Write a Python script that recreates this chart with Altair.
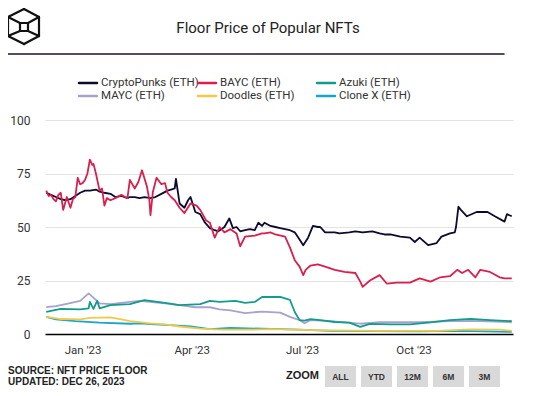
import altair as alt
import pandas as pd

names = ["CryptoPunks (ETH)", "BAYC (ETH)", "Azuki (ETH)", "MAYC (ETH)", "Doodles (ETH)", "Clone X (ETH)"]
colors = ["#0c0b2f", "#d7204d", "#139b8c", "#a7a2cf", "#f2c84b", "#17a6c9"]

punks_dates = ["2022-12-02", "2022-12-06", "2022-12-10", "2022-12-14", "2022-12-18", "2022-12-22", "2022-12-26",
               "2022-12-30", "2023-01-03", "2023-01-07", "2023-01-12", "2023-01-15", "2023-01-19", "2023-01-24",
               "2023-01-28", "2023-02-02", "2023-02-07", "2023-02-09", "2023-02-13", "2023-02-17", "2023-02-21",
               "2023-02-26", "2023-03-02", "2023-03-07", "2023-03-12", "2023-03-15", "2023-03-18", "2023-03-19",
               "2023-03-22", "2023-03-26", "2023-03-29", "2023-03-31", "2023-04-04", "2023-04-08", "2023-04-12",
               "2023-04-16", "2023-04-20", "2023-04-23", "2023-04-28", "2023-05-02", "2023-05-05", "2023-05-08",
               "2023-05-11", "2023-05-15", "2023-05-19", "2023-05-23", "2023-05-26", "2023-05-29", "2023-05-31",
               "2023-06-05", "2023-06-09", "2023-06-13", "2023-06-17", "2023-06-21", "2023-06-25", "2023-06-28",
               "2023-07-02", "2023-07-06", "2023-07-10", "2023-07-14", "2023-07-16", "2023-07-20", "2023-07-28",
               "2023-08-01", "2023-08-09", "2023-08-14", "2023-08-20", "2023-08-28", "2023-09-03", "2023-09-07",
               "2023-09-12", "2023-09-20", "2023-09-28", "2023-10-02", "2023-10-06", "2023-10-13", "2023-10-20",
               "2023-10-24", "2023-10-31", "2023-11-04", "2023-11-05", "2023-11-07", "2023-11-09", "2023-11-14",
               "2023-11-22", "2023-12-01", "2023-12-07", "2023-12-15", "2023-12-17", "2023-12-21"]
punks_values = [66, 65, 64, 63, 62.5, 63, 64.5,
                66, 67, 67, 67.5, 66.5, 66, 65.5,
                64, 64.5, 63.5, 64, 64, 63.5, 64,
                63.5, 64, 65.5, 67, 67.5, 68, 72.5,
                61, 59, 62.5, 64, 57, 56, 52,
                49.5, 48.5, 48, 50, 54, 49.5, 50,
                48, 48.5, 49, 48.5, 52, 50.5, 52,
                50.5, 50, 49.5, 49, 48.5, 47.5, 45,
                41.5, 45, 50.5, 50, 50, 47.5, 47.5,
                47, 47.5, 48, 47.5, 48, 47, 46.5,
                46.5, 45.5, 45, 43, 45, 41.5, 42.5,
                45.5, 47, 47.5, 50, 59.5, 58, 55,
                57, 57, 55, 52.5, 56, 55]

bayc_dates = ["2022-12-02", "2022-12-04", "2022-12-06", "2022-12-08", "2022-12-10", "2022-12-12", "2022-12-14",
              "2022-12-16", "2022-12-19", "2022-12-22", "2022-12-24", "2022-12-26", "2022-12-28", "2022-12-30",
              "2023-01-01", "2023-01-03", "2023-01-05", "2023-01-07", "2023-01-09", "2023-01-10", "2023-01-12",
              "2023-01-15", "2023-01-17", "2023-01-19", "2023-01-21", "2023-01-24", "2023-01-28", "2023-02-02",
              "2023-02-05", "2023-02-07", "2023-02-09", "2023-02-13", "2023-02-16", "2023-02-19", "2023-02-23",
              "2023-02-25", "2023-02-26", "2023-02-28", "2023-03-03", "2023-03-07", "2023-03-10", "2023-03-12",
              "2023-03-15", "2023-03-18", "2023-03-22", "2023-03-26", "2023-03-31", "2023-04-05", "2023-04-08",
              "2023-04-13", "2023-04-16", "2023-04-20", "2023-04-24", "2023-04-28", "2023-05-03", "2023-05-08",
              "2023-05-11", "2023-05-15", "2023-05-23", "2023-05-29", "2023-05-31", "2023-06-05", "2023-06-09",
              "2023-06-17", "2023-06-21", "2023-06-25", "2023-06-29", "2023-07-02", "2023-07-04", "2023-07-08",
              "2023-07-14", "2023-07-20", "2023-07-28", "2023-08-05", "2023-08-14", "2023-08-18", "2023-08-20",
              "2023-08-26", "2023-09-03", "2023-09-09", "2023-09-17", "2023-09-28", "2023-10-06", "2023-10-15",
              "2023-10-23", "2023-10-31", "2023-11-06", "2023-11-10", "2023-11-15", "2023-11-21", "2023-11-25",
              "2023-12-03", "2023-12-11", "2023-12-15", "2023-12-21"]
bayc_values = [67, 64.5, 65, 63, 62, 65, 66,
               58, 64, 59, 63, 64, 73, 70,
               70.5, 72, 75, 81.5, 79, 79.5, 75,
               67, 68, 60, 63.5, 62.5, 63.5, 65,
               64, 63.5, 72, 68, 71, 76.5, 69,
               63, 55.5, 66.5, 73, 70, 70.5, 66,
               64, 62.5, 59, 56.5, 61, 60, 58,
               53, 52, 45, 50, 47.5, 49, 47,
               41, 45.5, 46, 47, 47, 47.5, 46.5,
               45.5, 40.5, 34.5, 31.5, 27.5, 30, 32,
               32.5, 31.5, 30, 29, 28.5, 24.5, 22,
               25, 27.5, 23.5, 24, 24, 26, 24.5,
               26.5, 27, 30, 28.5, 30, 26.5, 30,
               29, 26.5, 26, 26]

azuki_dates = ["2022-12-02", "2022-12-14", "2022-12-30", "2023-01-06", "2023-01-07", "2023-01-10", "2023-01-13",
               "2023-01-15", "2023-01-24", "2023-02-09", "2023-02-21", "2023-03-10", "2023-03-22", "2023-04-08",
               "2023-04-16", "2023-04-24", "2023-05-07", "2023-05-15", "2023-05-23", "2023-05-29", "2023-06-05",
               "2023-06-13", "2023-06-21", "2023-06-25", "2023-06-29", "2023-07-03", "2023-07-08", "2023-07-16",
               "2023-07-28", "2023-08-09", "2023-08-18", "2023-08-26", "2023-09-12", "2023-09-28", "2023-10-15",
               "2023-10-31", "2023-11-17", "2023-12-03", "2023-12-21"]
azuki_values = [10.3, 11.7, 11.5, 12, 15, 11.7, 15.5,
                12, 13.5, 14, 15.8, 14.5, 13.5, 14,
                15.5, 15, 15.5, 14.5, 15, 17.3, 17.3,
                17.3, 16, 10.3, 6.5, 6.2, 7, 6.5,
                5.6, 5.3, 3.3, 4.7, 4.5, 4.5, 5.4,
                6.5, 7, 6.5, 6]

mayc_dates = ["2022-12-02", "2022-12-10", "2022-12-18", "2022-12-30", "2023-01-06", "2023-01-09", "2023-01-15",
              "2023-01-24", "2023-02-09", "2023-02-17", "2023-03-10", "2023-03-22", "2023-04-04", "2023-04-16",
              "2023-04-24", "2023-05-03", "2023-05-15", "2023-05-29", "2023-06-13", "2023-06-21", "2023-06-29",
              "2023-07-03", "2023-07-08", "2023-07-24", "2023-08-18", "2023-09-03", "2023-10-06", "2023-10-31",
              "2023-11-25", "2023-12-21"]
mayc_values = [12.6, 13, 14, 15.5, 19, 17.5, 14.3,
               14, 15, 15.5, 14.3, 13.5, 12.5, 12.5,
               11.5, 11, 9.8, 10.5, 10, 8, 6.5,
               5, 6.5, 6, 4.8, 5.5, 5.5, 6,
               6, 5.5]

doodles_dates = ["2022-12-02", "2022-12-14", "2022-12-30", "2023-01-07", "2023-01-24", "2023-02-01", "2023-02-09",
                 "2023-02-26", "2023-03-10", "2023-03-22", "2023-04-08", "2023-04-24", "2023-05-19", "2023-06-05",
                 "2023-07-10", "2023-09-01", "2023-10-20", "2023-11-17", "2023-12-11", "2023-12-21"]
doodles_values = [8, 7, 6.8, 7.5, 7.8, 7, 6,
                  5, 4.5, 3.5, 2.5, 2, 2, 2.3,
                  1.8, 1.5, 1.5, 2.2, 2, 1.5]

clonex_dates = ["2022-12-02", "2022-12-10", "2022-12-26", "2023-01-15", "2023-02-09", "2023-02-17", "2023-03-02",
                "2023-03-18", "2023-03-31", "2023-04-16", "2023-05-03", "2023-05-29", "2023-06-29", "2023-07-24",
                "2023-08-26", "2023-10-06", "2023-11-08", "2023-12-21"]
clonex_values = [8, 6.8, 6, 5.3, 4.8, 5, 4.5,
                 4, 3.5, 2.3, 2.8, 2.5, 2, 1.5,
                 1.3, 1.2, 1.5, 1]

x_ticks = ["2023-01-01", "2023-04-01", "2023-07-01", "2023-10-01"]
y_ticks = [0, 25, 50, 75, 100]

# ---- build table (drawing order: low series first) ----
series = {
    "Clone X (ETH)": (clonex_dates, clonex_values),
    "Doodles (ETH)": (doodles_dates, doodles_values),
    "MAYC (ETH)": (mayc_dates, mayc_values),
    "Azuki (ETH)": (azuki_dates, azuki_values),
    "CryptoPunks (ETH)": (punks_dates, punks_values),
    "BAYC (ETH)": (bayc_dates, bayc_values),
}
rows = []
for order, (name, (ds, vs)) in enumerate(series.items()):
    for d, v in zip(ds, vs):
        rows.append({"date": d + "T00:00:00", "value": v, "series": name, "ord": order})
df = pd.DataFrame(rows)


def dt(s):
    y, m, d = (int(p) for p in s.split("-"))
    return alt.DateTime(year=y, month=m, date=d)


lines = alt.Chart(df).mark_line(strokeWidth=1.8, strokeJoin="round").encode(
    x=alt.X("date:T",
            scale=alt.Scale(domain=[dt("2022-12-01"), dt("2023-12-22")]),
            axis=alt.Axis(values=[dt(s) for s in x_ticks], format="%b '%y", grid=False, ticks=False,
                          domainColor="#000000", domainWidth=1.5, labelPadding=10, labelFontSize=11.5,
                          labelColor="#333333", labelFont="Roboto", title=None)),
    y=alt.Y("value:Q",
            scale=alt.Scale(domain=[0, 100]),
            axis=alt.Axis(values=y_ticks, grid=True, gridColor="#e3e3e3", domain=False, ticks=False,
                          labelPadding=15, labelFontSize=12, labelColor="#333333", labelFont="Roboto",
                          title=None)),
    color=alt.Color("series:N", scale=alt.Scale(domain=names, range=colors), legend=None),
    detail="ord:O",
)

one = pd.DataFrame({"k": [0]})


def text_layer(txt, x, y, size, bold=False, align="left", font="Roboto", color="#333333"):
    return alt.Chart(one).mark_text(text=txt, align=align, baseline="middle", fontSize=size,
                                    fontWeight="bold" if bold else "normal", font=font, color=color).encode(
        x=alt.value(x), y=alt.value(y))


def seg(x1, y1, x2, y2, color, width):
    return alt.Chart(one).mark_rule(color=color, strokeWidth=width, strokeCap="round").encode(
        x=alt.value(x1), y=alt.value(y1), x2=alt.value(x2), y2=alt.value(y2))


layers = [lines]

# title + separator
layers.append(text_layer("Floor Price of Popular NFTs", 223, -92, 15, align="center", color="#222222"))
layers.append(seg(-38, -66, 459, -66, "#1d0f33", 1.5))

# logo (page coords shifted by plot origin 45,120)
ox, oy = -45, -120
hexv = [(24, 9), (39, 17), (39, 36), (24, 44), (8, 36), (8, 17)]
for i in range(6):
    a, b = hexv[i], hexv[(i + 1) % 6]
    layers.append(seg(a[0] + ox, a[1] + oy, b[0] + ox, b[1] + oy, "#111111", 2.2))
inner = [(20, 23), (28, 23), (28, 31), (20, 31)]
for i in range(4):
    a, b = inner[i], inner[(i + 1) % 4]
    layers.append(seg(a[0] + ox, a[1] + oy, b[0] + ox, b[1] + oy, "#111111", 2.2))
for a, b in [((8, 17), (20, 23)), ((39, 17), (28, 23)), ((8, 36), (20, 31)), ((39, 36), (28, 31))]:
    layers.append(seg(a[0] + ox, a[1] + oy, b[0] + ox, b[1] + oy, "#111111", 2.2))

# manual legend
col_x = [34, 153, 272]
row_y = [-37, -24]
for i, (name, col) in enumerate(zip(names, colors)):
    cx, cy = col_x[i % 3], row_y[i // 3]
    layers.append(seg(cx, cy, cx + 18, cy, col, 2.5))
    layers.append(text_layer(name, cx + 22, cy, 11.5, color="#333333"))

# footer
layers.append(text_layer("SOURCE: NFT PRICE FLOOR", -37, 251, 10, bold=True, font="Liberation Sans", color="#222222"))
layers.append(text_layer("UPDATED: DEC 26, 2023", -37, 262, 10, bold=True, font="Liberation Sans", color="#222222"))
layers.append(text_layer("ZOOM", 241, 256, 11, bold=True, font="Liberation Sans", color="#222222"))
btn_labels = ["ALL", "YTD", "12M", "6M", "3M"]
btn_x = [280, 316, 352, 388, 424]
for lab, bx in zip(btn_labels, btn_x):
    layers.append(alt.Chart(one).mark_rect(color="#d9d9d9").encode(
        x=alt.value(bx), x2=alt.value(bx + 31), y=alt.value(246), y2=alt.value(267)))
    layers.append(text_layer(lab, bx + 15.5, 257, 8.5, bold=True, align="center", font="Liberation Sans",
                             color="#333333"))

chart = alt.layer(*layers).properties(
    width=468, height=214,
    padding={"left": 37, "top": 112, "right": 14, "bottom": 56},
    autosize=alt.AutoSizeParams(type="none"),
    background="white",
).configure_view(stroke=None)

chart.save("out.html", embed_options={"renderer": "svg", "actions": False})
